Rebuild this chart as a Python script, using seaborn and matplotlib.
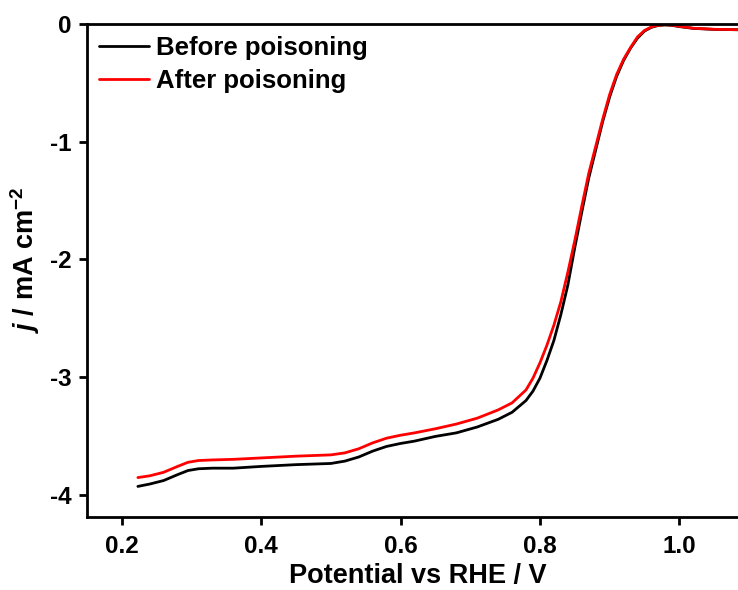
import numpy as np
import pandas as pd
import matplotlib
matplotlib.use("Agg")
import matplotlib.pyplot as plt
import seaborn as sns

# LSV polarisation curves (potential in V vs RHE, current density in mA cm^-2)
potential_before = [0.223, 0.24, 0.26, 0.28, 0.295, 0.31, 0.33, 0.36, 0.40, 0.45,
                    0.50, 0.52, 0.54, 0.56, 0.58, 0.60, 0.62, 0.65, 0.68, 0.71,
                    0.74, 0.76, 0.78, 0.79, 0.80, 0.81, 0.82, 0.83, 0.84, 0.85,
                    0.86, 0.87, 0.88, 0.89, 0.90, 0.91, 0.92, 0.93, 0.94, 0.95,
                    0.96, 0.97, 0.98, 0.99, 1.00, 1.02, 1.05, 1.10]
current_before = [-3.93, -3.91, -3.88, -3.83, -3.795, -3.78, -3.775, -3.775, -3.76, -3.745,
                  -3.735, -3.715, -3.68, -3.63, -3.59, -3.565, -3.545, -3.505, -3.475, -3.425,
                  -3.36, -3.30, -3.20, -3.12, -3.01, -2.86, -2.69, -2.47, -2.22, -1.90,
                  -1.60, -1.31, -1.07, -0.83, -0.62, -0.445, -0.31, -0.205, -0.12, -0.06,
                  -0.028, -0.012, -0.008, -0.012, -0.022, -0.037, -0.046, -0.05]

potential_after = [0.223, 0.24, 0.26, 0.28, 0.295, 0.31, 0.33, 0.36, 0.40, 0.45,
                   0.50, 0.52, 0.54, 0.56, 0.58, 0.60, 0.62, 0.65, 0.68, 0.71,
                   0.74, 0.76, 0.78, 0.79, 0.80, 0.81, 0.82, 0.83, 0.84, 0.85,
                   0.86, 0.87, 0.88, 0.89, 0.90, 0.91, 0.92, 0.93, 0.94, 0.95,
                   0.96, 0.97, 0.98, 0.99, 1.00, 1.02, 1.05, 1.10]
current_after = [-3.855, -3.84, -3.81, -3.76, -3.725, -3.71, -3.705, -3.70, -3.688, -3.673,
                 -3.662, -3.645, -3.61, -3.56, -3.52, -3.495, -3.475, -3.44, -3.40, -3.35,
                 -3.28, -3.22, -3.11, -3.01, -2.88, -2.73, -2.56, -2.36, -2.11, -1.84,
                 -1.55, -1.27, -1.04, -0.81, -0.60, -0.43, -0.30, -0.20, -0.11, -0.055,
                 -0.025, -0.01, -0.006, -0.01, -0.02, -0.036, -0.045, -0.05]

series_names = ["Before poisoning", "After poisoning"]
series_colors = ["#000000", "#ff0000"]

x_ticks = [0.2, 0.4, 0.6, 0.8, 1.0]
y_ticks = [0, -1, -2, -3, -4]

df = pd.concat([
    pd.DataFrame({"Potential": potential_before, "j": current_before, "Sample": series_names[0]}),
    pd.DataFrame({"Potential": potential_after, "j": current_after, "Sample": series_names[1]}),
], ignore_index=True)

sns.set_style("ticks")
plt.rcParams["font.family"] = ["Liberation Sans", "DejaVu Sans"]
plt.rcParams["font.weight"] = "bold"
plt.rcParams["text.color"] = "black"
plt.rcParams["axes.labelcolor"] = "black"
plt.rcParams["xtick.color"] = "black"
plt.rcParams["ytick.color"] = "black"
plt.rcParams["axes.unicode_minus"] = False
plt.rcParams["mathtext.fontset"] = "custom"
plt.rcParams["mathtext.rm"] = "Liberation Sans:bold"
plt.rcParams["mathtext.it"] = "Liberation Sans:bold:italic"
plt.rcParams["mathtext.bf"] = "Liberation Sans:bold"

fig = plt.figure(figsize=(7.38, 5.90), dpi=100)
# the plotting area runs slightly past the right edge of the canvas
ax = fig.add_axes([87 / 738, 1 - 517 / 590, (749 - 87) / 738, (517 - 24) / 590])

sns.lineplot(data=df, x="Potential", y="j", hue="Sample", hue_order=series_names,
             palette=series_colors, linewidth=2.0, sort=False, estimator=None, ax=ax)

ax.set_xlim(0.15, 1.10)
ax.set_ylim(-4.19, 0)
ax.set_xticks(x_ticks)
ax.set_xticklabels([f"{t:.1f}" for t in x_ticks])
ax.set_yticks(y_ticks)
ax.set_yticklabels([str(t) for t in y_ticks])

for side in ["left", "bottom", "top"]:
    ax.spines[side].set_linewidth(2.0)
    ax.spines[side].set_color("black")
ax.spines["right"].set_visible(False)
ax.tick_params(axis="both", direction="out", length=6, width=2.0, labelsize=17.5,
               colors="black", top=False, right=False)
ax.tick_params(axis="x", pad=7)
ax.tick_params(axis="y", pad=5)
for lbl in ax.get_xticklabels() + ax.get_yticklabels():
    lbl.set_fontweight("bold")

ax.set_xlabel("Potential vs RHE / V", fontsize=19.5, fontweight="bold", labelpad=3.5)
ax.set_ylabel(r"$j$ / mA cm$^{-2}$", fontsize=19.5, fontweight="bold")
ax.yaxis.set_label_coords(-0.068, 0.522)

leg = ax.legend(loc="upper left", frameon=False, handlelength=1.95,
                handletextpad=0.3, labelspacing=0.36, borderaxespad=0.2,
                borderpad=0.25, prop={"weight": "bold", "size": 18.5})
for line in leg.get_lines():
    line.set_linewidth(2.0)

fig.savefig("out.png", dpi=100)
